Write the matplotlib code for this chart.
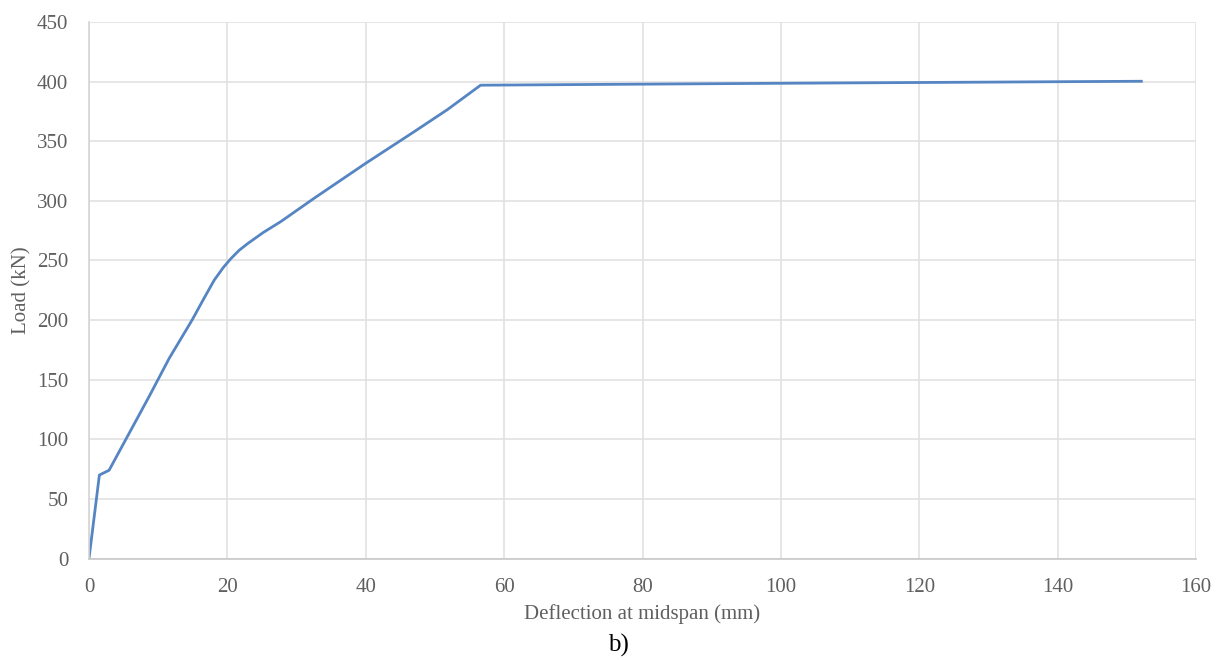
import matplotlib
matplotlib.use("Agg")
import matplotlib.pyplot as plt

# Data
deflection = [0.0, 1.5, 2.9, 5.8, 8.7, 11.6, 14.9, 16.6, 18.1, 19.4, 20.5, 21.7, 22.9,
              25.2, 27.7, 32.5, 40.0, 47.0, 51.8, 56.6, 100.0, 152.1]
load = [0.0, 70.0, 74.0, 105.0, 136.0, 168.0, 200.0, 218.0, 233.5, 244.0, 251.5, 258.5,
        264.0, 273.5, 282.5, 302.0, 331.5, 358.0, 376.5, 397.0, 398.6, 400.3]

xticks = [0, 20, 40, 60, 80, 100, 120, 140, 160]
yticks = [0, 50, 100, 150, 200, 250, 300, 350, 400, 450]

plt.rcParams['font.family'] = ['Liberation Serif', 'DejaVu Serif']

fig = plt.figure(figsize=(12.21, 6.6), dpi=100)
ax = fig.add_axes([89 / 1221, 1 - 558.5 / 660, (1196 - 89) / 1221, (558.5 - 22) / 660])

ax.plot(deflection, load, color='#5585c2', linewidth=2.0, solid_joinstyle='round')

ax.set_xlim(0, 160)
ax.set_ylim(0, 450)
ax.set_xticks(xticks)
ax.set_yticks(yticks)
ax.grid(True, color='#e2e2e2', linewidth=1.2)
ax.set_axisbelow(True)

for s in ['top', 'right']:
    ax.spines[s].set_visible(False)
ax.spines['left'].set_color('#d4d4d4')
ax.spines['bottom'].set_color('#c8c8c8')
ax.spines['left'].set_linewidth(1.2)
ax.spines['bottom'].set_linewidth(1.2)

ax.tick_params(axis='both', length=0, labelsize=15, colors='#5f5f5f')
ax.tick_params(axis='x', pad=14)
ax.tick_params(axis='y', pad=15)

ax.set_xlabel('Deflection at midspan (mm)', fontsize=15, color='#5f5f5f')
ax.xaxis.set_label_coords(0.5, (558.5 - 604) / (558.5 - 22))
ax.set_ylabel('Load (kN)', fontsize=15, color='#5f5f5f')
ax.yaxis.set_label_coords((31 - 89) / (1196 - 89), 0.5)

fig.text(618 / 1221, 1 - 645 / 660, 'b)', fontsize=18, color='black',
         ha='center', va='center')

fig.savefig('out.png', dpi=100, facecolor='white')
